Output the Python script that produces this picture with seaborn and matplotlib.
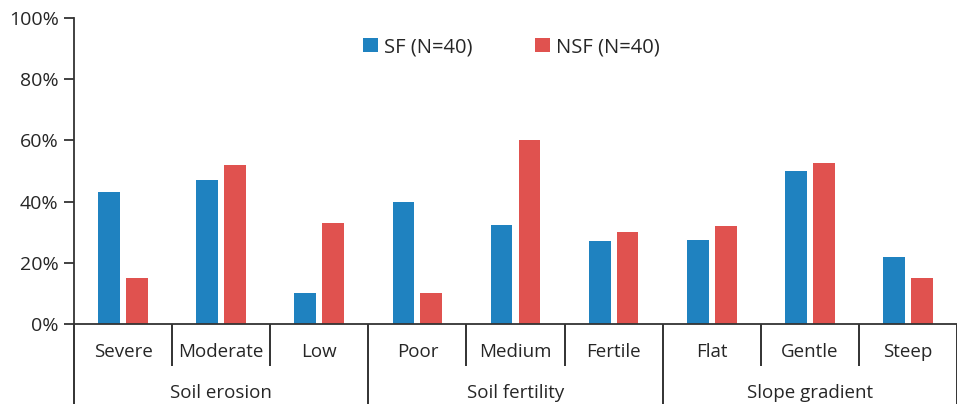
import matplotlib
matplotlib.use("Agg")
import matplotlib.pyplot as plt
import seaborn as sns
import pandas as pd
from matplotlib.ticker import FuncFormatter

categories = ["Severe", "Moderate", "Low", "Poor", "Medium", "Fertile", "Flat", "Gentle", "Steep"]
groups = ["Soil erosion", "Soil fertility", "Slope gradient"]
group_sizes = [3, 3, 3]
sf_values = [43, 47, 10, 40, 32.5, 27, 27.5, 50, 22]
nsf_values = [15, 52, 33, 10, 60, 30, 32, 52.5, 15]
series_names = ["SF (N=40)", "NSF (N=40)"]
colors = ["#1f82c0", "#e0524f"]

df = pd.DataFrame({
    "category": categories * 2,
    "value": sf_values + nsf_values,
    "series": [series_names[0]] * len(categories) + [series_names[1]] * len(categories),
})

sns.set_style("white")
plt.rcParams["font.family"] = ["Open Sans", "DejaVu Sans"]
text_color = "#262626"
fs = 13.5

fig = plt.figure(figsize=(9.57, 4.04), dpi=100)
W, H = 957, 404
ax = fig.add_axes([74 / W, (H - 324) / H, (957 - 74) / W, (324 - 18) / H])

sns.barplot(data=df, x="category", y="value", hue="series", order=categories,
            hue_order=series_names, palette=colors, width=0.57, gap=0.22,
            saturation=1, ax=ax, edgecolor="none")

ax.set_xlim(-0.5, len(categories) - 0.5)
ax.set_ylim(0, 100)
ax.set_yticks([0, 20, 40, 60, 80, 100])
ax.yaxis.set_major_formatter(FuncFormatter(lambda v, p: f"{int(v)}%"))
ax.tick_params(axis="y", direction="out", length=7, width=1.3, color="#333333",
               labelsize=fs + 0.5, labelcolor=text_color, pad=4, left=True)
ax.set_xticks([])
ax.set_xlabel("")
ax.set_ylabel("")
for s in ["top", "right"]:
    ax.spines[s].set_visible(False)
for s in ["left", "bottom"]:
    ax.spines[s].set_color("#333333")
    ax.spines[s].set_linewidth(1.3)

trans = ax.get_xaxis_transform()
lvl1 = -(366 - 324) / 306
lvl2 = -(404 - 324) / 306
group_edges = [-0.5]
acc = -0.5
for g in group_sizes:
    acc += g
    group_edges.append(acc)
for k in range(len(categories) + 1):
    xpos = k - 0.5
    bottom = lvl2 if xpos in group_edges else lvl1
    ax.plot([xpos, xpos], [0, bottom], transform=trans, color="#222222",
            lw=1.3, clip_on=False, solid_capstyle="butt")
for i, c in enumerate(categories):
    ax.text(i, -(352 - 324) / 306, c, transform=trans, ha="center", va="center",
            fontsize=fs, color=text_color)
start = 0
for g, n in zip(groups, group_sizes):
    ax.text(start + (n - 1) / 2, -(393 - 324) / 306, g, transform=trans,
            ha="center", va="center", fontsize=fs, color=text_color)
    start += n

leg = ax.legend(loc="center", bbox_to_anchor=(0.495, 0.905), ncol=2, frameon=False,
                handlelength=0.75, handleheight=0.75, handletextpad=0.3,
                columnspacing=3.1, fontsize=14.5)
for t in leg.get_texts():
    t.set_color(text_color)

fig.savefig("out.png", dpi=100)
